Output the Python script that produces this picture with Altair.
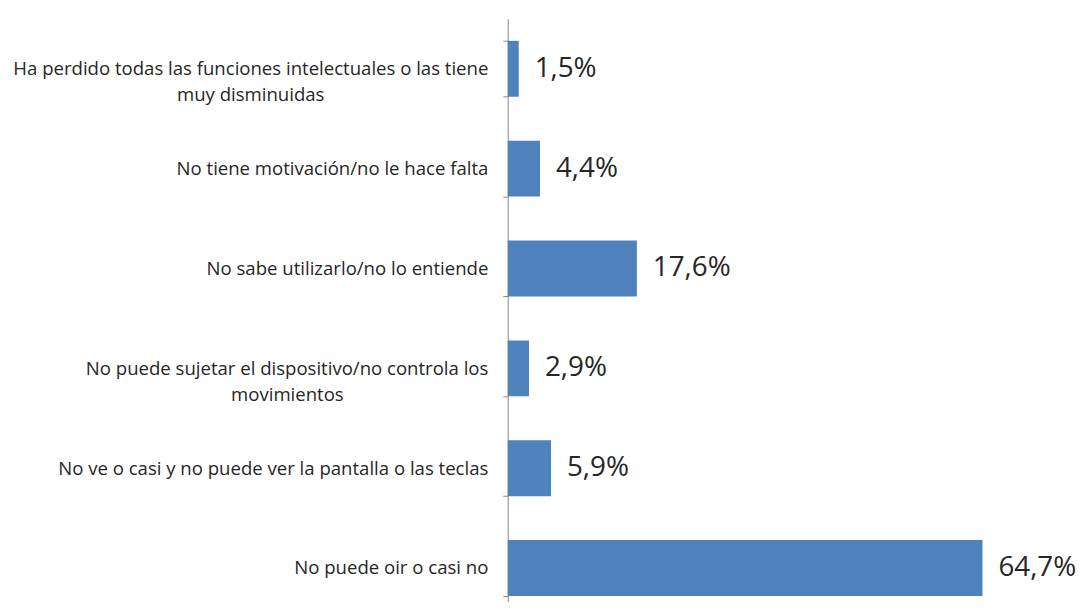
import altair as alt
import pandas as pd

NB = "\u00a0"
ZW = "\u200b"
categories = [
    "Ha perdido todas las funciones intelectuales o las tiene\nmuy disminuidas" + NB * 34 + ZW,
    "No tiene motivación/no le hace falta",
    "No sabe utilizarlo/no lo entiende",
    "No puede sujetar el dispositivo/no controla los\nmovimientos" + NB * 30 + ZW,
    "No ve o casi y no puede ver la pantalla o las teclas",
    "No puede oir o casi no",
]
values = [1.5, 4.4, 17.6, 2.9, 5.9, 64.7]

df = pd.DataFrame({"cat": categories, "v": values})

y_enc = alt.Y(
    "cat:N",
    sort=None,
    scale=alt.Scale(paddingInner=0.44, paddingOuter=0.22, range=[0, 603]),
    axis=alt.Axis(
        title=None,
        labelExpr="split(datum.label, '\\n')",
        labelFont="Open Sans",
        labelFontSize=18.7,
        labelColor="#262626",
        labelLineHeight=26,
        labelPadding=15,
        labelLimit=0,
        tickBand="extent",
        tickSize=5,
        tickColor="#868686",
        domainColor="#868686",
        grid=False,
    ),
)

base = alt.Chart(df).encode(
    y=y_enc,
    x=alt.X("v:Q", scale=alt.Scale(domain=[0, 70]), axis=None),
)

bars = base.mark_bar(color="#4F81BD")

labels = base.transform_calculate(
    lab="replace(format(datum.v, '.1f'), '.', ',') + '%'"
).mark_text(
    align="left", baseline="middle", dx=16, font="Open Sans", fontSize=28, color="#262626"
).encode(text="lab:N")

chart = (bars + labels).properties(
    width=517,
    height=585,
    autosize=alt.AutoSizeParams(type="none"),
    padding={"left": 503, "top": 9, "right": 57, "bottom": 0},
).configure(background="white").configure_view(stroke=None)

chart.save("out.html", embed_options={"renderer": "svg", "actions": False})
